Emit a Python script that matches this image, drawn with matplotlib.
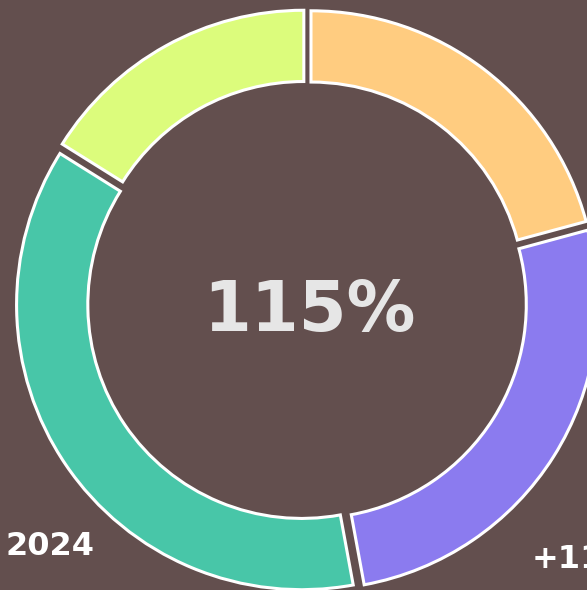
import matplotlib
matplotlib.use("Agg")
import matplotlib.pyplot as plt

# ---- data ----
categories = ["A", "B", "2024", "D"]
labels = ["", "+11%", "2024", ""]
values = [20.8, 26.3, 36.8, 16.1]
colors = ["#FFCC80", "#8B7BEF", "#48C6A8", "#DCFC7C"]
center_text = "115%"

BG = "#634F4E"

fig = plt.figure(figsize=(5.87, 5.90), dpi=100, facecolor=BG)
ax = fig.add_axes([0, 0, 1, 1])
ax.set_facecolor(BG)

wedges, texts = ax.pie(
    values,
    labels=labels,
    colors=colors,
    startangle=90,
    counterclock=False,
    radius=1.0,
    explode=[0.023] * len(values),
    wedgeprops=dict(width=0.25, edgecolor="white", linewidth=2.2),
    textprops=dict(color="white", fontsize=23, fontweight="bold",
                   family="DejaVu Sans"),
)

# label placement (layout only)
label_pos = {1: (0.789, -0.937, "left"), 2: (-0.744, -0.891, "right")}
for i, t in enumerate(texts):
    if i in label_pos:
        x, y, ha = label_pos[i]
        t.set_position((x, y))
        t.set_ha(ha)
        t.set_va("baseline")

ax.text(0.009, -0.105, center_text, ha="center", va="baseline",
        color="#E6E6E6", fontsize=49.5, fontweight="bold", family="DejaVu Sans")

R = 285.0
cx, cy = 307.0, 301.0
W, H = 587.0, 590.0
ax.set_xlim(-cx / R, (W - cx) / R)
ax.set_ylim(-(H - cy) / R, cy / R)
ax.set_aspect("equal")
ax.axis("off")

fig.savefig("out.png", dpi=100, facecolor=BG)
